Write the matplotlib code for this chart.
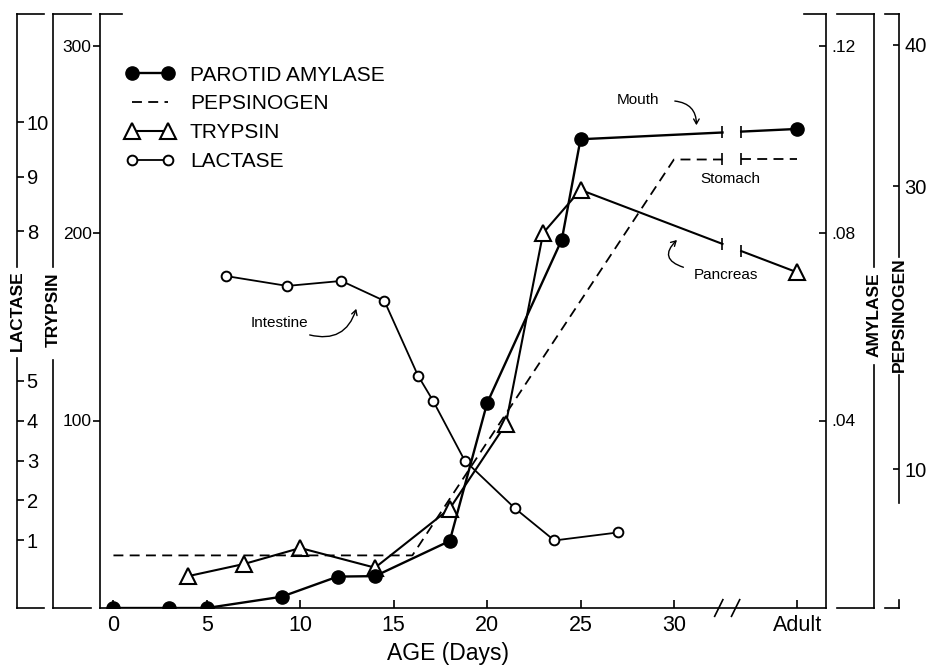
import numpy as np
import matplotlib.pyplot as plt
from matplotlib.lines import Line2D

plt.rcParams['font.family'] = ['Liberation Sans', 'DejaVu Sans']

# age axis: the adult column sits right of the axis break
adult_x = 36.6
gap_x = [32.6, 33.6]          # where the curves are cut
slash_x = [32.4, 33.3]        # the // on the age axis
xtick_pos = [0, 5, 10, 15, 20, 25, 30, adult_x]
xtick_lab = ['0', '5', '10', '15', '20', '25', '30', 'Adult']

# parotid amylase
amy_days = [0, 3, 5, 9, 12, 14, 18, 20, 24, 25]
amy_vals = [0.0, 0.0, 0.0, 0.0024, 0.0067, 0.0068, 0.0143, 0.0437, 0.0786, 0.1000]
amy_adult = 0.1022

# pepsinogen (stomach)
pep_days = [0, 16, 30]
pep_vals = [3.9, 3.9, 31.9]
pep_adult = 31.9

# trypsin (pancreas)
try_days = [4, 7, 10, 14, 18, 21, 23, 25]
try_vals = [17, 23.5, 32, 21.5, 53, 98, 200, 223]
try_adult = 179

# lactase (intestine)
lac_days = [6, 9.3, 12.2, 14.5, 16.3, 17.1, 18.8, 21.5, 23.6, 27]
lac_vals = [7.1, 6.9, 7.0, 6.6, 5.1, 4.5, 3.0, 1.8, 1.0, 1.2]

# lactase scale is broken between 5 and 8 -> piecewise linear against trypsin units
lac_knots = [-1, 0, 5, 8, 10, 13]
lac_pos = [-6.6, 14.7, 121.3, 201, 259, 346]


def lac_fwd(v):
    return np.interp(v, lac_knots, lac_pos)


def lac_inv(v):
    return np.interp(v, lac_pos, lac_knots)


W, H = 936, 672
TOP, BOT = 14, 608
LEFT, RIGHT = 100, 826
TRY_TOP = 316.8


def fx(px):
    return px / W


def fy(py):
    return 1 - py / H


fig = plt.figure(figsize=(W / 100, H / 100), dpi=100)
ax = fig.add_axes([fx(LEFT), fy(BOT), (RIGHT - LEFT) / W, (BOT - TOP) / H])
ax_a = ax.twinx()
ax_p = ax.twinx()
ax_l = ax.twinx()

LW = 1.2
ax.set_xlim(-0.72, 38.14)
ax.set_ylim(0, TRY_TOP)
ax.spines['top'].set_visible(False)
for s in ['left', 'right', 'bottom']:
    ax.spines[s].set_linewidth(LW)
ax.set_xticks(xtick_pos, xtick_lab)
ax.tick_params(axis='x', direction='in', length=6, width=LW, labelsize=15.5, pad=5)
ax.set_yticks([100, 200, 300])
ax.tick_params(axis='y', direction='out', length=5, width=LW, labelsize=12.5, pad=1)
ax.set_xlabel('AGE (Days)', fontsize=16.5)
ax.xaxis.set_label_coords(0.479, -0.058)

for a in (ax_a, ax_p, ax_l):
    for s in a.spines.values():
        s.set_visible(False)

ax_a.set_ylim(0, TRY_TOP * 0.0004)
ax_a.set_yticks([0.04, 0.08, 0.12], ['.04', '.08', '.12'])
ax_a.tick_params(direction='in', length=5, width=LW, labelsize=12.5, pad=4)

ax_p.spines['right'].set_position(('axes', (899 - LEFT) / (RIGHT - LEFT)))
ax_p.set_ylim(0.18, 42.19)
ax_p.set_yticks([10, 30, 40])
ax_p.tick_params(direction='in', length=4, width=LW, labelsize=14.5, pad=4)

ax_l.set_yscale('function', functions=(lac_fwd, lac_inv))
ax_l.set_ylim(lac_inv(0), lac_inv(TRY_TOP))
ax_l.spines['right'].set_position(('axes', (17 - LEFT) / (RIGHT - LEFT)))
ax_l.set_yticks([1, 2, 3, 4, 5, 8, 9, 10], ['1', '2', '3', '4', '5', '8', '9', '10'])
ax_l.minorticks_off()
ax_l.tick_params(direction='out', length=5, width=LW, labelsize=14.5, pad=2)


def broken_series(a, days, vals, adult, **kw):
    # straight line from the last age to adult, cut at the axis break
    cut = np.interp(gap_x, [days[-1], adult_x], [vals[-1], adult])
    a.plot(list(days) + [gap_x[0]], list(vals) + [cut[0]], color='k', **kw)
    a.plot([gap_x[1], adult_x], [cut[1], adult], color='k', **kw)
    a.plot(gap_x, cut, ls='none', marker='|', ms=9, mew=LW, color='k')


broken_series(ax_p, pep_days, pep_vals, pep_adult, lw=1.3, dashes=(5.5, 3.5))
broken_series(ax, try_days, try_vals, try_adult, lw=1.5)
broken_series(ax_a, amy_days, amy_vals, amy_adult, lw=1.7)
ax_l.plot(lac_days, lac_vals, color='k', lw=1.3)

ax.plot(try_days + [adult_x], try_vals + [try_adult], ls='none', marker='^', ms=11,
        mfc='white', mec='k', mew=1.5, zorder=5)
ax_a.plot(amy_days + [adult_x], amy_vals + [amy_adult], ls='none', marker='o', ms=9.5,
          mfc='k', mec='k', zorder=5)
ax_l.plot(lac_days, lac_vals, ls='none', marker='o', ms=7, mfc='white', mec='k',
          mew=1.4, zorder=5)

# axis break on the age axis
for bx in slash_x:
    ax.plot([bx - 0.22, bx + 0.22], [-0.014, 0.014], color='k', lw=1.2,
            transform=ax.get_xaxis_transform(), clip_on=False)

# legend
handles = [
    Line2D([], [], color='k', lw=1.7, marker='o', ms=9.5),
    Line2D([], [], color='k', lw=1.3, dashes=(5.5, 3.5)),
    Line2D([], [], color='k', lw=1.5, marker='^', ms=11, mfc='white', mew=1.5),
    Line2D([], [], color='k', lw=1.3, marker='o', ms=7, mfc='white', mew=1.4),
]
labels = ['PAROTID AMYLASE', 'PEPSINOGEN', 'TRYPSIN', 'LACTASE']
ax_l.legend(handles, labels, loc='upper left', bbox_to_anchor=(0.035, 0.913),
            frameon=False, numpoints=2, fontsize=15, handlelength=2.35,
            handletextpad=0.75, labelspacing=0.47, borderpad=0, borderaxespad=0)

# notes on the curves
note = dict(fontsize=11, ha='center', va='center')
arrow = dict(arrowstyle='->,head_length=0.35,head_width=0.2', lw=1, color='k')
ax.text(28.07, 271, 'Mouth', **note)
ax.annotate('', xy=(31.2, 256), xytext=(29.9, 270.5),
            arrowprops=dict(connectionstyle='arc3,rad=-0.5', **arrow))
ax.text(33.0, 229, 'Stomach', **note)
ax.text(32.8, 177.5, 'Pancreas', **note)
ax.annotate('', xy=(30.27, 197.3), xytext=(30.65, 181.3),
            arrowprops=dict(connectionstyle='arc3,rad=-0.9', **arrow))
ax.text(8.9, 152, 'Intestine', **note)
ax.annotate('', xy=(13.04, 161), xytext=(10.36, 146),
            arrowprops=dict(connectionstyle='arc3,rad=0.5', **arrow))


# bracket-style axis lines drawn in figure pixels
def fig_line(xs, ys):
    fig.add_artist(Line2D([fx(v) for v in xs], [fy(v) for v in ys], color='k', lw=LW))


def bracket(x, tab_to, gaps):
    ys = [TOP] + [g for pair in gaps for g in pair] + [BOT]
    for i in range(0, len(ys), 2):
        fig_line([x, x], [ys[i], ys[i + 1]])
    fig_line([x, tab_to], [TOP, TOP])
    fig_line([x, tab_to], [BOT, BOT])


bracket(17, 44, [(267, 358)])
bracket(53, 91, [(267, 360)])
bracket(874, 837, [(267, 365)])
bracket(899, 885, [(257, 375), (503, 600)])
fig_line([LEFT, LEFT + 22], [TOP, TOP])
fig_line([RIGHT, RIGHT - 22], [TOP, TOP])

side = dict(rotation=90, ha='center', va='center', fontsize=12.5, fontweight='bold')
fig.text(fx(17), fy(311), 'LACTASE', **side)
fig.text(fx(53), fy(310), 'TRYPSIN', **side)
fig.text(fx(874), fy(315), 'AMYLASE', **side)
fig.text(fx(899), fy(315), 'PEPSINOGEN', **side)

fig.savefig('out.png', dpi=100)
